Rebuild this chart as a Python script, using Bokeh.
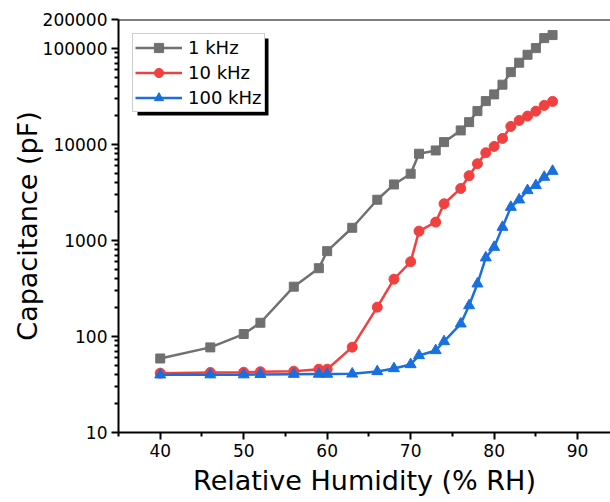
from bokeh.plotting import figure
from bokeh.models import (Range1d, FixedTicker, NumeralTickFormatter, Legend,
                          LegendItem, Span, BoxAnnotation)
from bokeh.embed import file_html
from bokeh.resources import INLINE

# ---- data ----
humidity = [40, 46, 50, 52, 56, 59, 60, 63, 66, 68, 70, 71, 73, 74, 76, 77,
            78, 79, 80, 81, 82, 83, 84, 85, 86, 87]
cap_1khz = [59, 77, 106, 139, 330, 514, 774, 1355, 2655, 3830, 4955, 8000,
            8660, 10570, 13990, 17070, 22230, 28260, 33200, 41900, 56600,
            71000, 85900, 100700, 128000, 137700]
cap_10khz = [41.5, 42.2, 42.4, 42.9, 43.5, 45.6, 45.6, 77.4, 202, 395, 600,
             1250, 1552, 2410, 3480, 4720, 6290, 8190, 9530, 11550, 15400,
             17780, 19730, 22200, 25500, 28050]
cap_100khz = [39.9, 40.0, 40.0, 40.3, 40.5, 40.6, 40.6, 40.8, 43.2, 46.4, 51.1,
              63.4, 71.5, 88.7, 135.6, 210, 354, 661, 851, 1376, 2223, 2654,
              3319, 3740, 4570, 5270]
series_labels = ["1 kHz", "10 kHz", "100 kHz"]
x_ticks = [40, 50, 60, 70, 80, 90]
x_minor_ticks = [35, 45, 55, 65, 75, 85]
y_ticks = [10, 100, 1000, 10000, 100000, 200000]
y_minor_ticks = [20, 30, 40, 50, 60, 70, 80, 90,
                 200, 300, 400, 500, 600, 700, 800, 900,
                 2000, 3000, 4000, 5000, 6000, 7000, 8000, 9000,
                 20000, 30000, 40000, 50000, 60000, 70000, 80000, 90000]
x_title = "Relative Humidity (% RH)"
y_title = "Capacitance (pF)"

FONT = "DejaVu Sans"
colors = ["#707070", "#F14040", "#1A6FDF"]
markers = ["square", "circle", "triangle"]
msizes = [9, 10, 11]

W, H = 610, 502
BL, BT, BB = 118, 19, 70     # frame: 492 x 413 px
FH = H - BT - BB

p = figure(width=W, height=H, x_range=Range1d(35, 93.94),
           y_range=Range1d(10, 200000), y_axis_type="log",
           output_backend="svg", toolbar_location=None,
           min_border_left=BL, min_border_right=0,
           min_border_top=BT, min_border_bottom=BB)
p.outline_line_color = None
p.grid.visible = False
p.background_fill_color = "white"
p.border_fill_color = "white"

p.xaxis[0].ticker = FixedTicker(ticks=x_ticks, minor_ticks=x_minor_ticks)
p.yaxis[0].ticker = FixedTicker(ticks=y_ticks, minor_ticks=y_minor_ticks)
p.yaxis[0].formatter = NumeralTickFormatter(format="0")

for ax in (p.xaxis[0], p.yaxis[0]):
    ax.axis_line_width = 2
    ax.axis_line_color = "black"
    ax.major_tick_line_width = 2
    ax.major_tick_line_color = "black"
    ax.minor_tick_line_width = 2
    ax.minor_tick_line_color = "black"
    ax.major_tick_in = 0
    ax.major_tick_out = 7
    ax.minor_tick_in = 0
    ax.minor_tick_out = 4
    ax.major_label_text_font = FONT
    ax.major_label_text_font_size = "17px"
    ax.major_label_text_color = "black"
    ax.major_label_standoff = 4
    ax.axis_label_text_font = FONT
    ax.axis_label_text_font_size = "27px"
    ax.axis_label_text_font_style = "normal"
    ax.axis_label_text_color = "black"

p.xaxis[0].axis_label = x_title
p.xaxis[0].axis_label_standoff = 5
p.yaxis[0].axis_label = y_title
p.yaxis[0].axis_label_standoff = -3

p.add_layout(Span(location=200000, dimension="width", line_color="black",
                  line_width=2))

items = []
for vals, c, m, sz, lab in zip([cap_1khz, cap_10khz, cap_100khz], colors,
                               markers, msizes, series_labels):
    ln = p.line(humidity, vals, line_color=c, line_width=2.5)
    sc = p.scatter(humidity, vals, marker=m, size=sz, fill_color=c,
                   line_color=c)
    items.append(LegendItem(label=lab, renderers=[ln, sc]))

# legend geometry (pixels)
LM = 14                 # legend offset from the frame corner
GW, LBW, STD, PAD = 47, 74, 6, 2
LW = PAD + GW + STD + LBW + PAD
LH = PAD + 3 * 23 + 2 * 2 + PAD
SH = 5                  # shadow offset
shadow = BoxAnnotation(left=LM + SH, right=LM + SH + LW,
                       top=FH - LM - SH, bottom=FH - LM - SH - LH,
                       left_units="screen", right_units="screen",
                       top_units="screen", bottom_units="screen",
                       fill_color="black", fill_alpha=1.0, line_alpha=0)
p.add_layout(shadow)

legend = Legend(items=items, location="top_left", margin=LM,
                glyph_width=GW, glyph_height=23, label_height=23,
                label_width=LBW, label_standoff=STD, padding=PAD, spacing=2,
                label_text_font=FONT, label_text_font_size="18px",
                background_fill_color="white", background_fill_alpha=1.0,
                border_line_color="#999999", border_line_width=1,
                label_text_color="black")
p.add_layout(legend)

open("out.html", "w").write(file_html(p, INLINE))
